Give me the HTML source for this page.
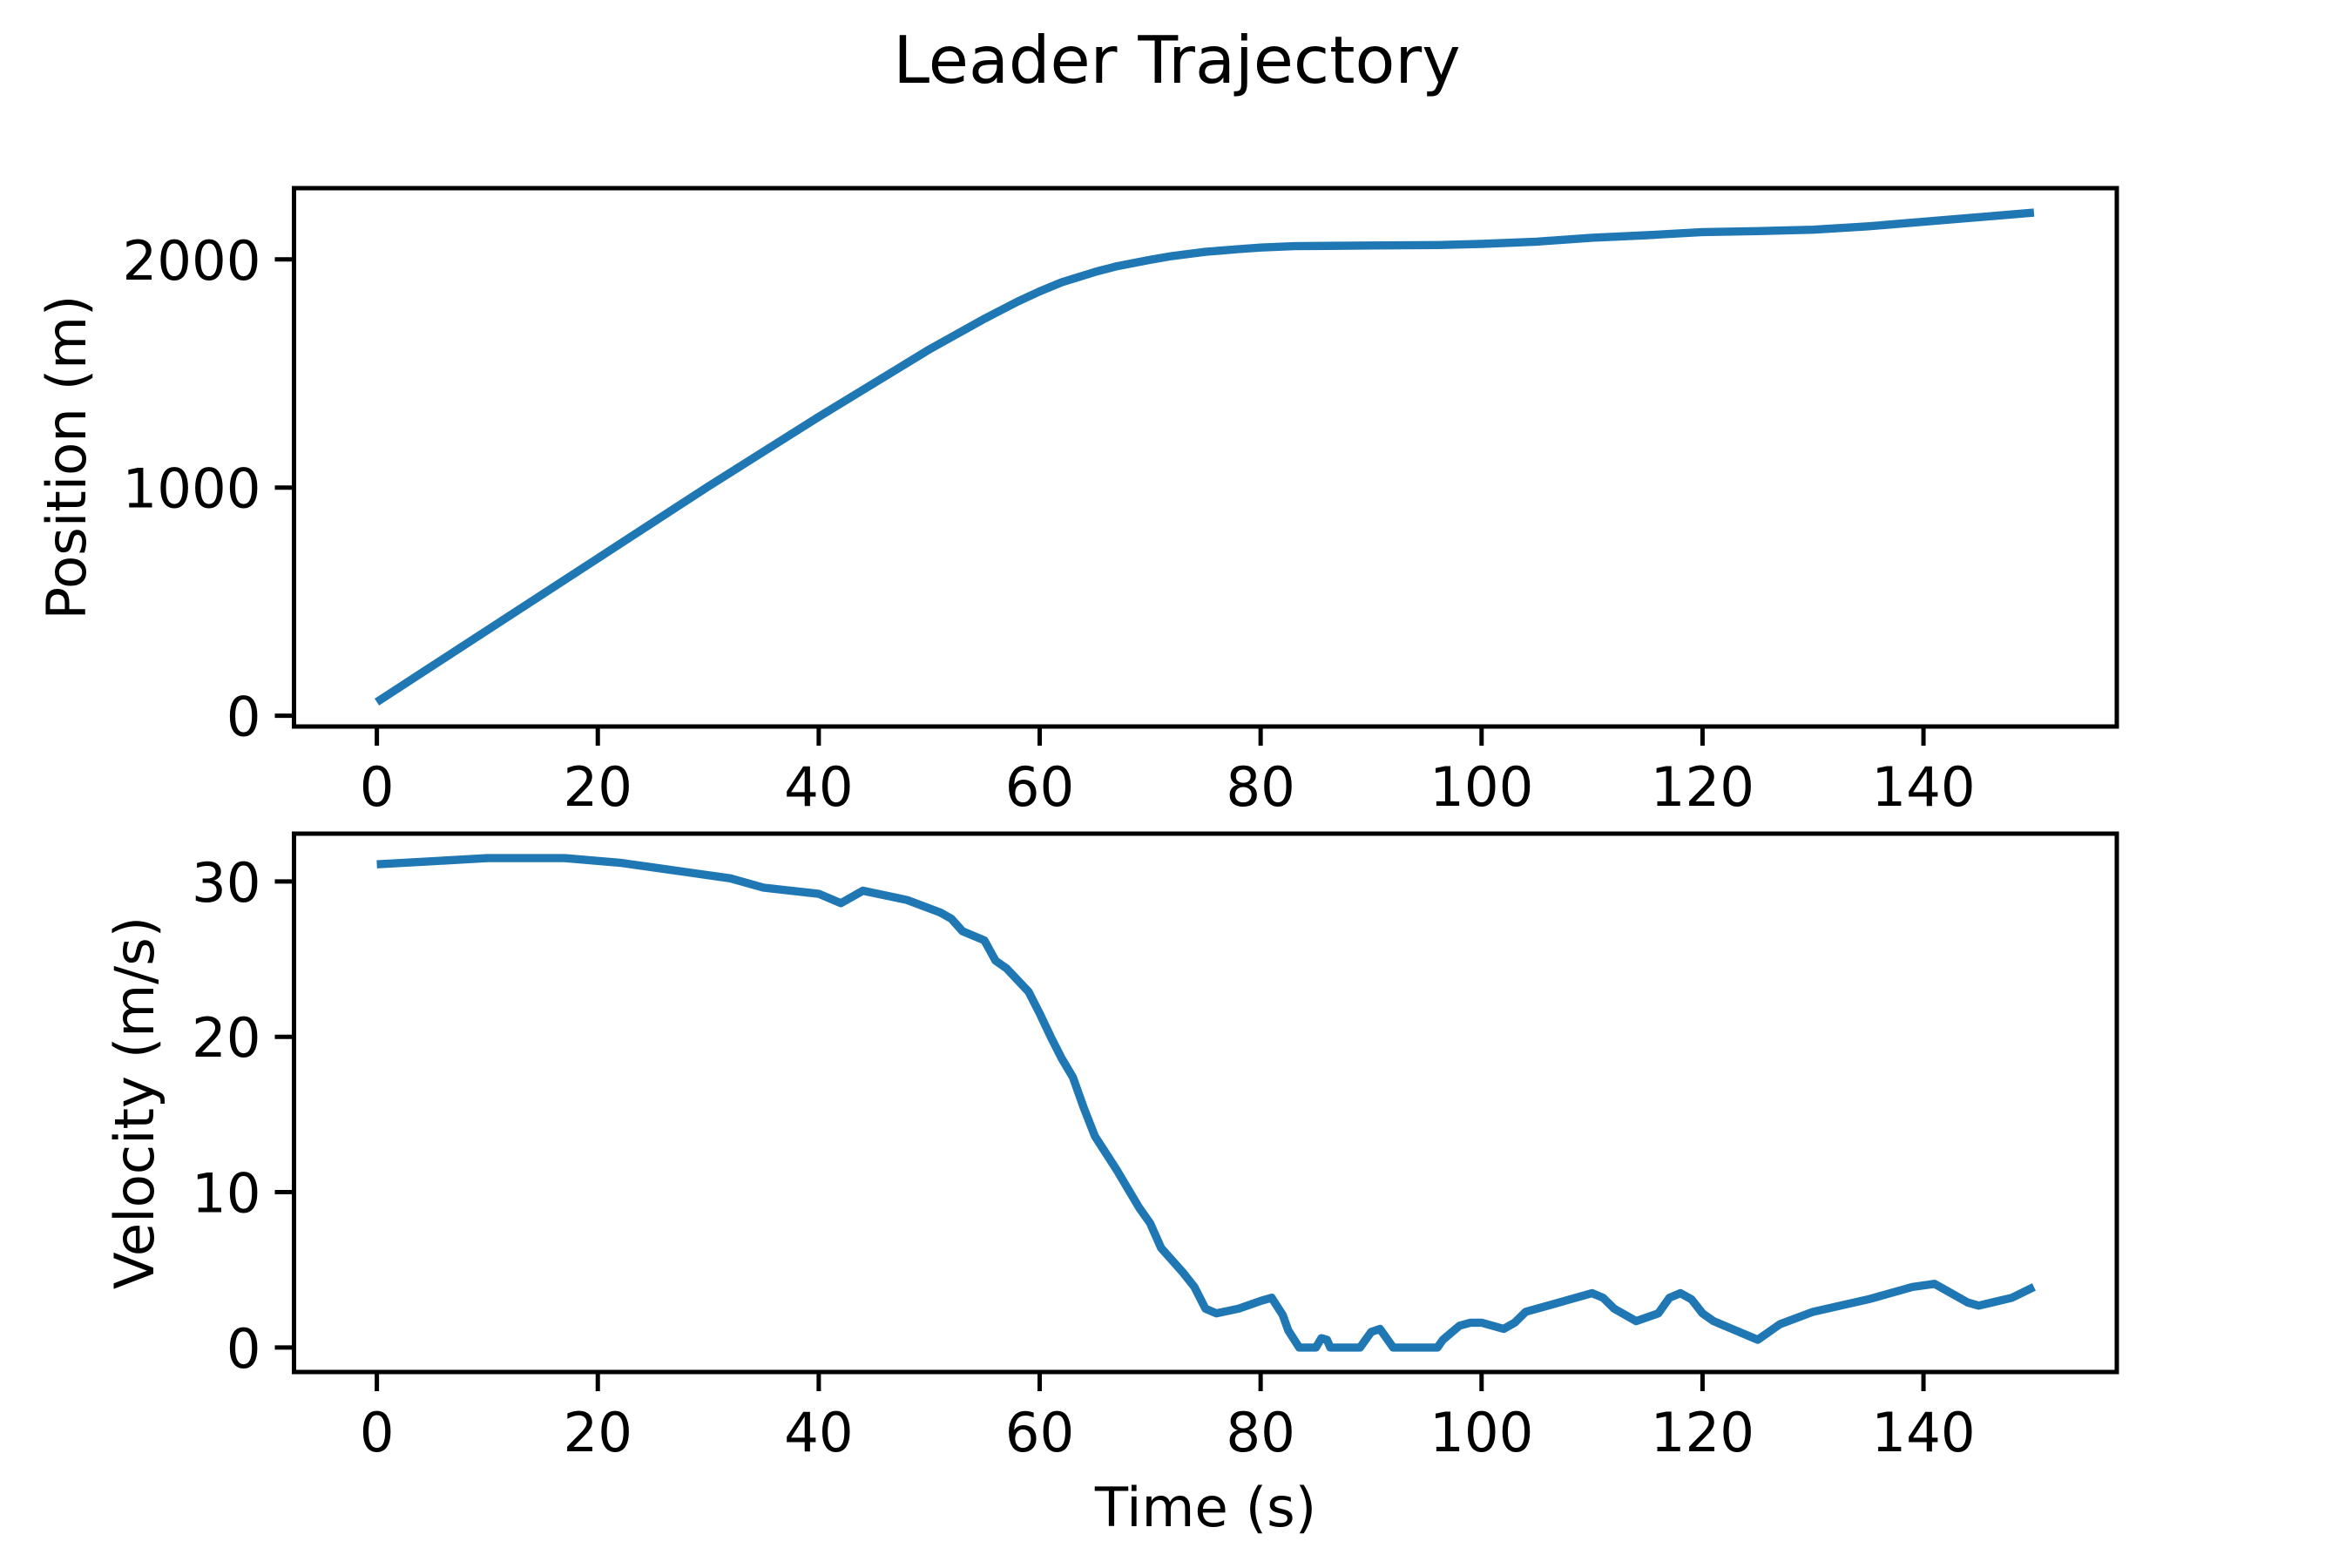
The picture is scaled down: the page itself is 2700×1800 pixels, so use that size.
<!DOCTYPE html>
<html><head><meta charset="utf-8"><style>
html,body{margin:0;padding:0;background:#fff;}
svg{display:block;font-family:"DejaVu Sans","Liberation Sans",sans-serif;}
</style></head><body>
<svg id="fig" width="2700" height="1800" viewBox="0 0 2700 1800" xmlns="http://www.w3.org/2000/svg">
<rect width="2700" height="1800" fill="#fff"/>
<text x="1351" y="95" font-size="75" text-anchor="middle">Leader Trajectory</text>
<g id="top"></g>
<g id="bot"></g>
<text x="0" y="0" font-size="62.5" text-anchor="middle" transform="translate(98,525) rotate(-90)">Position (m)</text>
<text x="0" y="0" font-size="62.5" text-anchor="middle" transform="translate(176,1266) rotate(-90)">Velocity (m/s)</text>
<text x="1384" y="1752" font-size="62.5" text-anchor="middle">Time (s)</text>
</svg>
<script>
const xTicks = [0,20,40,60,80,100,120,140];
const posTicks = [0,1000,2000];
const velTicks = [0,10,20,30];
const posTime = [0,10,20,30,40,50,55,58,60,62,65,67,70,72,75,78,80,83,90,96,100,105,110,115,120,125,130,135,140,145,150];
const posValues = [60,375,690,1005,1310,1605,1740,1815,1860,1900,1945,1970,1998,2015,2033,2045,2052,2058,2061,2063,2068,2078,2095,2106,2120,2124,2130,2145,2165,2185,2205];
const velTime = [0,5,10,17,22,28,32,35,40,42,44,48,51,52,53,55,56,57,59,60,61,62,63,64,65,67,69,70,71,72,73,74,75,76,78,80,81,82,82.5,83.5,85,85.5,86,86.3,89,89.5,90,90.8,91.5,92,96,96.5,98,99,100,102,103,104,106,108,110,111,112,114,116,117,118,119,120,121,123,125,127,130,135,137,139,141,142,144,145,148,150];
const velValues = [31.1,31.3,31.5,31.5,31.2,30.6,30.2,29.6,29.2,28.6,29.4,28.8,28.0,27.6,26.8,26.2,24.9,24.4,22.9,21.5,20,18.6,17.4,15.4,13.6,11.4,9,8,6.4,5.6,4.8,3.9,2.5,2.2,2.5,3.0,3.2,2.1,1.1,0,0,0.6,0.5,0,0,0.5,1.0,1.2,0.5,0,0,0.5,1.4,1.6,1.6,1.2,1.6,2.3,2.7,3.1,3.5,3.2,2.5,1.7,2.2,3.2,3.5,3.1,2.2,1.7,1.1,0.5,1.5,2.3,3.1,3.5,3.9,4.1,3.7,2.9,2.7,3.2,3.9];

const NS='http://www.w3.org/2000/svg';
const L=337.5,R=2430;
function mk(tag,attrs,parent){const e=document.createElementNS(NS,tag);for(const k in attrs)e.setAttribute(k,attrs[k]);parent.appendChild(e);return e;}
function sx(t){return L+(t+7.5)/165*(R-L);}
function drawAxes(g,top,bottom,xs,ys,yticks,name){
  const ymin=Math.min(...ys),ymax=Math.max(...ys),pad=(ymax-ymin)*0.05;
  const lo=ymin-pad,hi=ymax+pad;
  const sy=v=>bottom-(v-lo)/(hi-lo)*(bottom-top);
  const pts=xs.map((t,i)=>sx(t).toFixed(1)+','+sy(ys[i]).toFixed(1)).join(' ');
  const line=mk('polyline',{points:pts,fill:'none',stroke:'#1f77b4','stroke-width':9.4,'stroke-linejoin':'round','stroke-linecap':'butt'},g);
  
  
  const fr=mk('rect',{x:L,y:top,width:R-L,height:bottom-top,fill:'none',stroke:'#000','stroke-width':5},g);
  
  
  xTicks.forEach(t=>{
    const x=sx(t);
    const tk=mk('line',{x1:x,x2:x,y1:bottom,y2:bottom+22,stroke:'#000','stroke-width':5},g);
    
    
    const tx=mk('text',{x:x,y:bottom+91,'font-size':62.5,'text-anchor':'middle'},g);
    tx.textContent=t;
    
    
  });
  yticks.forEach(v=>{
    const y=sy(v);
    const tk=mk('line',{x1:L-22,x2:L,y1:y,y2:y,stroke:'#000','stroke-width':5},g);
    
    
    const tx=mk('text',{x:L-38,y:y+23,'font-size':62.5,'text-anchor':'end'},g);
    tx.textContent=v;
    
    
  });
}
drawAxes(document.getElementById('top'),216,834,posTime,posValues,posTicks,'position');
drawAxes(document.getElementById('bot'),957,1575,velTime,velValues,velTicks,'velocity');
</script>
</body></html>
